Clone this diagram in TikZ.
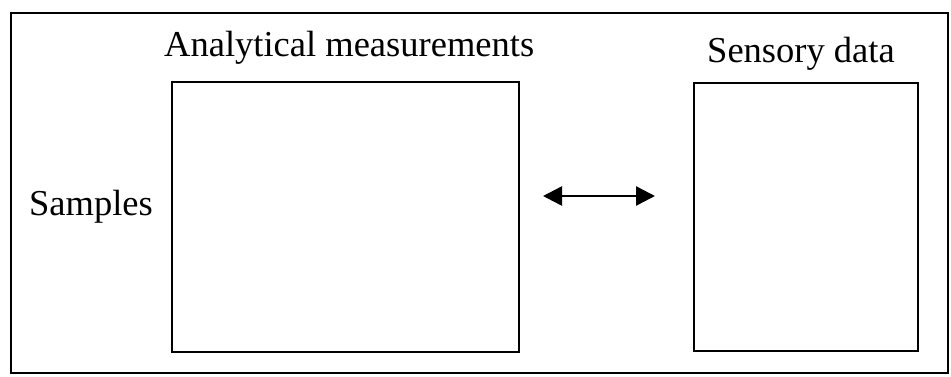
\documentclass[tikz,border=0pt]{standalone}
\usepackage{fontspec}
\setmainfont{Liberation Serif}
\usetikzlibrary{arrows.meta}
\begin{document}
\begin{tikzpicture}[x=1pt,y=-1pt,
  lbl/.style={anchor=base west,inner sep=0pt,font=\fontsize{36.5}{40}\selectfont},
  panel/.style={draw,line width=2pt,inner sep=0pt,anchor=north west},
  frameline/.style={line width=2pt},
  link/.style={line width=2.5pt,{Triangle[length=19pt,width=19pt]}-{Triangle[length=19pt,width=19pt]}}]
\useasboundingbox (0,0) rectangle (951,376);
\coordinate (fr1) at (11,13);
\coordinate (fr2) at (948,373);
\draw[frameline] (fr1) rectangle (fr2);
\node[panel,minimum width=347pt,minimum height=270pt] (anal) at (171,81) {};
\node[panel,minimum width=224pt,minimum height=268pt] (sens) at (693,82) {};
\node[lbl] (t1) at (164,56) {Analytical measurements};
\node[lbl] (t2) at (707,62) {Sensory data};
\node[lbl] (t3) at (29,215) {Samples};
\coordinate (a1) at (543,196);
\coordinate (a2) at (655,196);
\draw[link] (a1) -- (a2);
\end{tikzpicture}
\end{document}
